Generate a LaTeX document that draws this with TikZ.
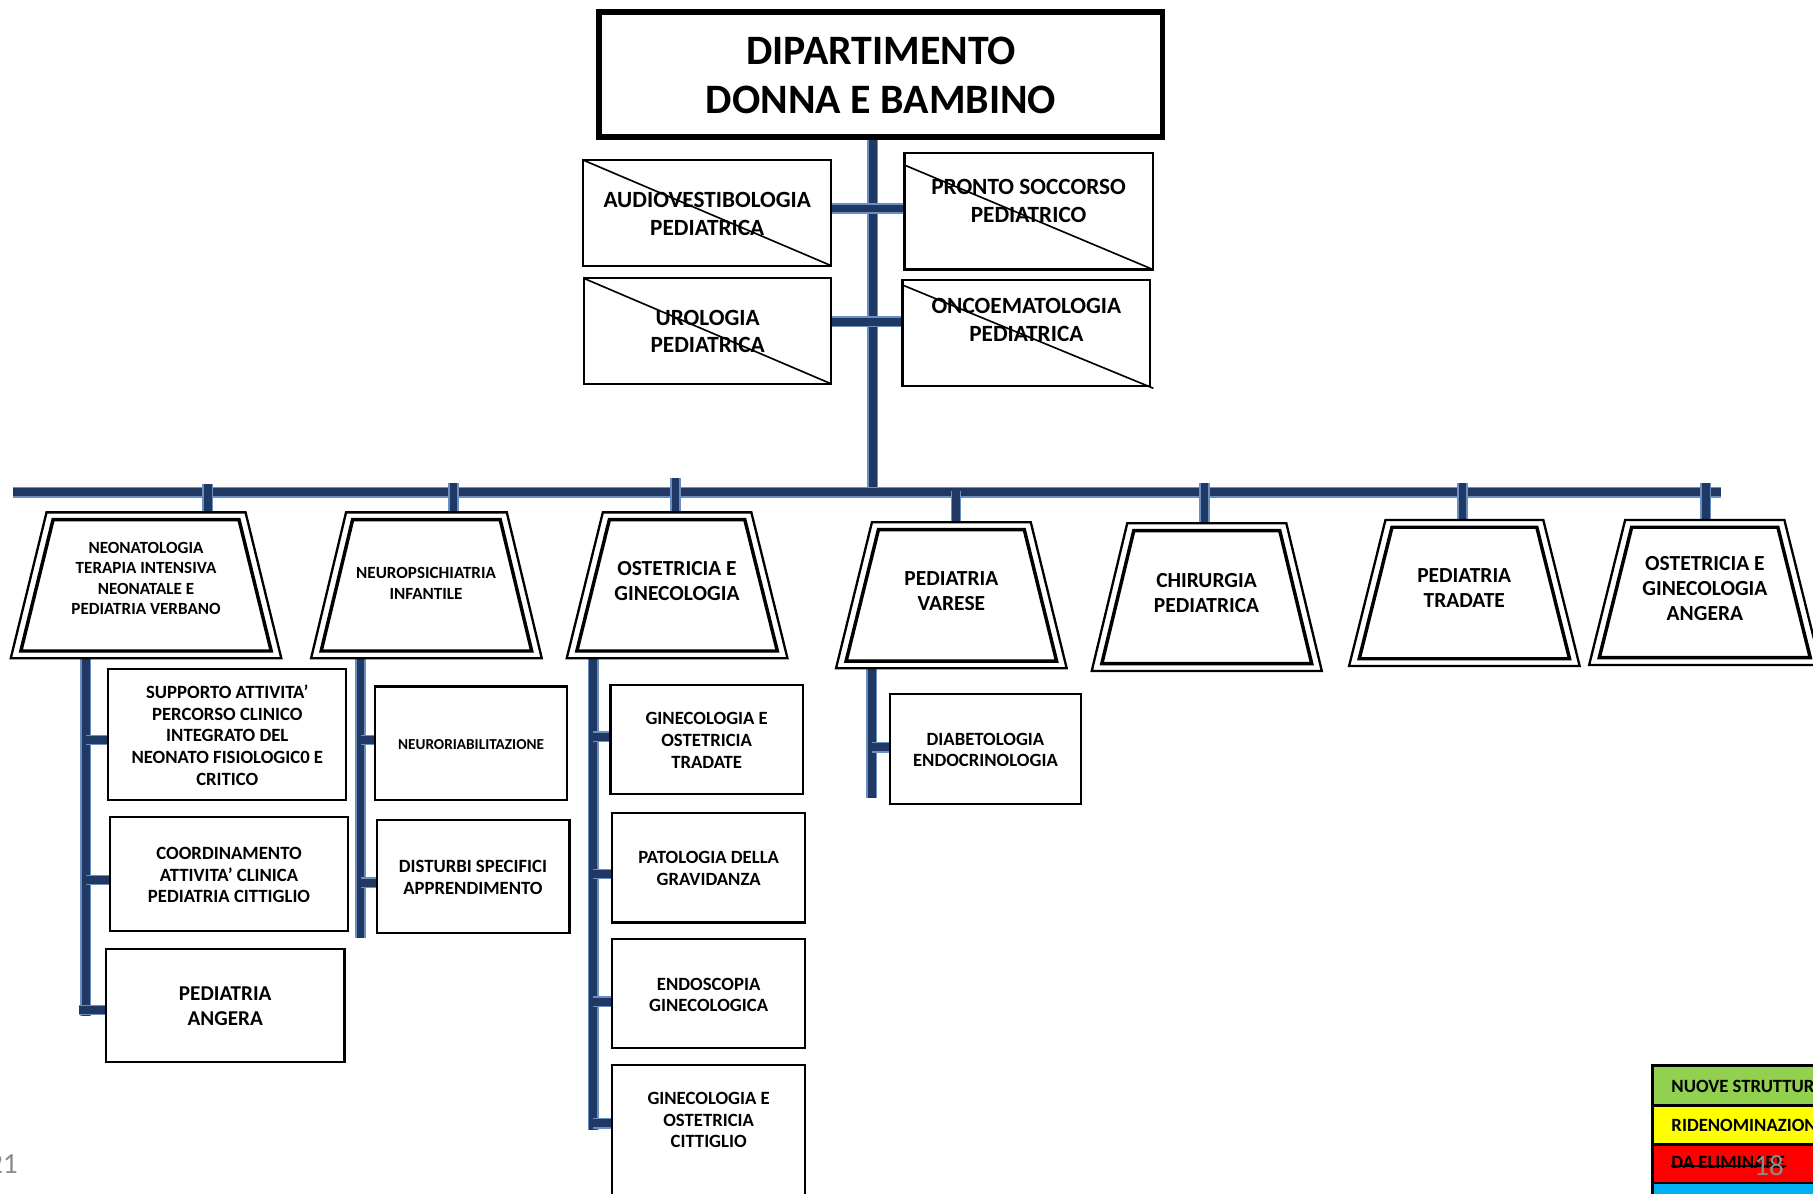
\documentclass[tikz,border=0pt]{standalone}
\usepackage{fontspec}
\setmainfont{Carlito}
\usetikzlibrary{fit,backgrounds}
\definecolor{barcore}{RGB}{31,56,100}
\definecolor{baredge}{RGB}{106,143,192}
\definecolor{lgreen}{RGB}{146,208,80}
\definecolor{lyellow}{RGB}{255,255,0}
\definecolor{lred}{RGB}{255,0,0}
\definecolor{lblue}{RGB}{0,176,240}
\definecolor{pgnum}{RGB}{140,140,140}
\newcommand{\fsz}[2]{\fontsize{#1pt}{#2pt}\selectfont\bfseries}
\newcommand{\trap}[5]{%
  \pgfmathsetmacro{\trapS}{(#5-#4)/(#3-#2)}%
  \pgfmathsetmacro{\trapIT}{#4+\trapS*6.3-7.2}%
  \pgfmathsetmacro{\trapIB}{#5-\trapS*6.3-7.2}%
  \draw[trapout] ({#1-#4},#2) -- ({#1+#4},#2) -- ({#1+#5},#3) -- ({#1-#5},#3) -- cycle;
  \draw[trapin] ({#1-\trapIT},{#2+6.3}) -- ({#1+\trapIT},{#2+6.3}) -- ({#1+\trapIB},{#3-6.3}) -- ({#1-\trapIB},{#3-6.3}) -- cycle;
}
\tikzset{
  box/.style={draw, line width=0.55pt, inner sep=0pt, outer sep=0pt},
  legbox/.style={draw, line width=0.65pt, inner sep=0pt, outer sep=0pt},
  txt/.style={align=center, inner sep=0pt, outer sep=0pt},
  bar/.style={draw=baredge, line width=0.35pt, double=barcore, double distance=1.9pt},
  trapout/.style={line width=0.57pt},
  trapin/.style={line width=0.85pt},
  cross/.style={line width=0.4pt},
  ftitle/.style={font=\fsz{10.3}{11.95}},
  fside/.style={font=\fsz{5.72}{6.83}},
  ftsmall/.style={font=\fsz{4.2}{5.0}},
  ftrap/.style={font=\fsz{5.28}{6.1}},
  fsub/.style={font=\fsz{4.6}{5.35}},
  fleg/.style={font=\fsz{4.6}{5.5}},
  fpg/.style={font=\fontsize{7.2pt}{8pt}\selectfont, text=pgnum, inner sep=0pt}
}
\begin{document}
\begin{tikzpicture}[x=0.01cm, y=-0.01cm]
\useasboundingbox (0,0) rectangle (1568,1032);

% ---------- main box ----------
\node[box, line width=1.4pt, fit={(518,10.5) (1005.5,118.5)}] (dept) {};
\node[txt, ftitle] (dept-t) at (762,65.3) {DIPARTIMENTO\\DONNA E BAMBINO};

% ---------- crossed-out side boxes ----------
\node[box, fit={(504.3,138.4) (719,229.8)}] (audio) {};
\node[txt, fside] (audio-t) at (611.7,185.2) {AUDIOVESTIBOLOGIA\\PEDIATRICA};
\node[box, fit={(782.2,132) (997,233)}] (pronto) {};
\node[txt, fside] (pronto-t) at (889.6,174) {PRONTO SOCCORSO\\PEDIATRICO};
\node[box, fit={(504.9,240.7) (719,332)}] (uro) {};
\node[txt, fside] (uro-t) at (612,286.7) {UROLOGIA\\PEDIATRICA};
\node[box, fit={(780.6,242.2) (994.7,333.8)}] (onco) {};
\node[txt, fside] (onco-t) at (887.7,276.6) {ONCOEMATOLOGIA\\PEDIATRICA};
\draw[cross] (audio.north west) -- (audio.south east);
\draw[cross] ([yshift=-0.107cm]pronto.north west) -- (pronto.south east);
\draw[cross] (uro.north west) -- (uro.south east);
\draw[cross] ([yshift=-0.043cm]onco.north west) -- ([xshift=0.028cm,yshift=-0.02cm]onco.south east);

% ---------- trapezoids ----------
\trap{126.3}{443.1}{569.3}{86.05}{117}
\node[txt, ftsmall] (t1) at (126.3,500.4) {NEONATOLOGIA\\TERAPIA INTENSIVA\\NEONATALE E\\PEDIATRIA VERBANO};
\trap{368.8}{443.1}{569.3}{69.5}{99.75}
\node[txt, ftsmall] (t2) at (368.5,504.5) {NEUROPSICHIATRIA\\INFANTILE};
\trap{585.6}{443.1}{569.3}{64.2}{95.45}
\node[txt, ftrap] (t3) at (585.5,502.8) {OSTETRICIA E\\GINECOLOGIA};
\trap{822.8}{451.7}{578}{68.7}{99.75}
\node[txt, ftrap] (t4) at (822.8,511.3) {PEDIATRIA\\VARESE};
\trap{1043.7}{452.6}{580.3}{68.8}{99.5}
\node[txt, ftrap] (t5) at (1043.5,513.1) {CHIRURGIA\\PEDIATRICA};
\trap{1266.5}{449.7}{576}{68.25}{99.7}
\node[txt, ftrap] (t6) at (1266.4,508.6) {PEDIATRIA\\TRADATE};
\trap{1474.4}{449.7}{575.1}{68.85}{100}
\node[txt, ftrap] (t7) at (1474.5,509.1) {OSTETRICIA E\\GINECOLOGIA\\ANGERA};

\coordinate (t1-n) at (179.7,443.1);  \coordinate (b1) at (179.7,419);
\coordinate (t2-n) at (392.2,443.1);  \coordinate (b2) at (392.2,417.5);
\coordinate (t3-n) at (584.3,443.1);  \coordinate (b3) at (584.3,413.5);
\coordinate (t4-n) at (826.9,451.7);  \coordinate (b4) at (826.9,424.3);
\coordinate (t5-n) at (1041.8,452.6); \coordinate (b5) at (1041.8,418);
\coordinate (t6-n) at (1264.8,449.7); \coordinate (b6) at (1264.8,418);
\coordinate (t7-n) at (1475.2,449.7); \coordinate (b7) at (1475.2,417.6);
\coordinate (t1-s) at (74.1,569.3);   \coordinate (d1) at (74.1,878.7);
\coordinate (t2-s) at (311.8,569.3);  \coordinate (d2) at (311.8,811.5);
\coordinate (t3-s) at (513.1,569.3);  \coordinate (d3) at (513.1,977.3);
\coordinate (t4-s) at (753.9,578);    \coordinate (d4) at (753.9,690.4);

% ---------- sub boxes ----------
\node[box, fit={(93.7,578.6) (299.5,691.9)}] (sup) {};
\node[txt, fsub] (sup-t) at (196.6,635.7) {SUPPORTO ATTIVITA’\\PERCORSO CLINICO\\INTEGRATO DEL\\NEONATO FISIOLOGIC0 E\\CRITICO};
\node[box, fit={(95,706.8) (301.2,805.2)}] (coord) {};
\node[txt, fsub] (coord-t) at (198.1,756.7) {COORDINAMENTO\\ATTIVITA’ CLINICA\\PEDIATRIA CITTIGLIO};
\node[box, fit={(91.7,820.7) (297.9,918.7)}] (pang) {};
\node[txt, font=\fsz{5.2}{6.26}] (pang-t) at (194.8,870.2) {PEDIATRIA\\ANGERA};

\node[box, fit={(324.3,593.8) (490.5,691.9)}] (nria) {};
\node[txt, font=\fsz{3.75}{4.5}] (nria-t) at (407.4,643.7) {NEURORIABILITAZIONE};
\node[box, fit={(326,709.2) (492.5,807.2)}] (dsa) {};
\node[txt, fsub] (dsa-t) at (409,758.6) {DISTURBI SPECIFICI\\APPRENDIMENTO};

\node[box, fit={(528.1,592.4) (694.2,687)}] (gtr) {};
\node[txt, fsub] (gtr-t) at (611.2,640.4) {GINECOLOGIA E\\OSTETRICIA\\TRADATE};
\node[box, fit={(529.6,703.4) (696.2,797.9)}] (pat) {};
\node[txt, fsub] (pat-t) at (612.9,751.3) {PATOLOGIA DELLA\\GRAVIDANZA};
\node[box, fit={(529.6,812.4) (696.2,906.6)}] (endo) {};
\node[txt, fsub] (endo-t) at (612.9,860.5) {ENDOSCOPIA\\GINECOLOGICA};
\node[box, fit={(529.6,921) (696.2,1045)}] (gcit) {};
\node[txt, fsub] (gcit-t) at (612.9,968.6) {GINECOLOGIA E\\OSTETRICIA\\CITTIGLIO};

\node[box, fit={(769.7,600.5) (935,695.6)}] (diab) {};
\node[txt, fsub] (diab-t) at (852.3,648.6) {DIABETOLOGIA\\ENDOCRINOLOGIA};

% ---------- connectors ----------
\coordinate (trunkTop) at (754.8,118.5);
\coordinate (hb) at (754.8,425.8);
\coordinate (hbL) at (10.9,425.8);
\coordinate (hbR) at (1488,425.8);
\coordinate (j1) at (754.8,180.2);
\coordinate (j2) at (754.8,278.2);
\coordinate (k1) at (74.1,640);
\coordinate (k2) at (74.1,761);
\coordinate (k3) at (68,873.5);
\coordinate (m1) at (311.8,640);
\coordinate (m2) at (311.8,763.4);
\coordinate (n1) at (513.1,637.1);
\coordinate (n2) at (513.1,755.9);
\coordinate (n3) at (513.1,866.3);
\coordinate (n4) at (513.1,971.5);
\coordinate (p1) at (753.9,646.3);

\begin{scope}[on background layer]
\draw[bar] (trunkTop) -- (hb);
\draw[bar] (hbL) -- (hbR);
\draw[bar] (j1 -| audio.east) -- (j1 -| pronto.west);
\draw[bar] (j2 -| uro.east) -- (j2 -| onco.west);
\foreach \i in {1,...,7} { \draw[bar] (b\i) -- (t\i-n); }
\draw[bar] (t1-s) -- (d1);
\draw[bar] (t2-s) -- (d2);
\draw[bar] (t3-s) -- (d3);
\draw[bar] (t4-s) -- (d4);
\draw[bar] (k1) -- (k1 -| sup.west);
\draw[bar] (k2) -- (k2 -| coord.west);
\draw[bar] (k3) -- (k3 -| pang.west);
\draw[bar] (m1) -- (m1 -| nria.west);
\draw[bar] (m2) -- (m2 -| dsa.west);
\draw[bar] (n1) -- (n1 -| gtr.west);
\draw[bar] (n2) -- (n2 -| pat.west);
\draw[bar] (n3) -- (n3 -| endo.west);
\draw[bar] (n4) -- (n4 -| gcit.west);
\draw[bar] (p1) -- (p1 -| diab.west);
\end{scope}

% ---------- legend ----------
\node[legbox, fill=lgreen, fit={(1429,921.7) (1620,956)}] (leg1) {};
\node[legbox, fill=lyellow, fit={(1429,956) (1620,989.7)}] (leg2) {};
\node[legbox, fill=lred, fit={(1429,989.7) (1620,1023.1)}] (leg3) {};
\node[legbox, fill=lblue, fit={(1429,1023.1) (1620,1070)}] (leg4) {};
\node[anchor=base west, inner sep=0pt, fleg] (leg1-t) at (1444.9,945) {NUOVE STRUTTURE};
\node[anchor=base west, inner sep=0pt, fleg] (leg2-t) at (1444.9,978.7) {RIDENOMINAZIONI};
\node[anchor=base west, inner sep=0pt, fleg] (leg3-t) at (1444.9,1010.4) {DA ELIMINARE};
\draw[line width=0.35pt] ([yshift=0.6pt]leg3-t.base west) -- ([yshift=0.6pt]leg3-t.base east);

% ---------- page numbers ----------
\node[anchor=base, fpg] (pg18) at (1530,1016.2) {18};
\node[anchor=base east, fpg] (pg21) at (16,1014.7) {21};
\end{tikzpicture}
\end{document}
